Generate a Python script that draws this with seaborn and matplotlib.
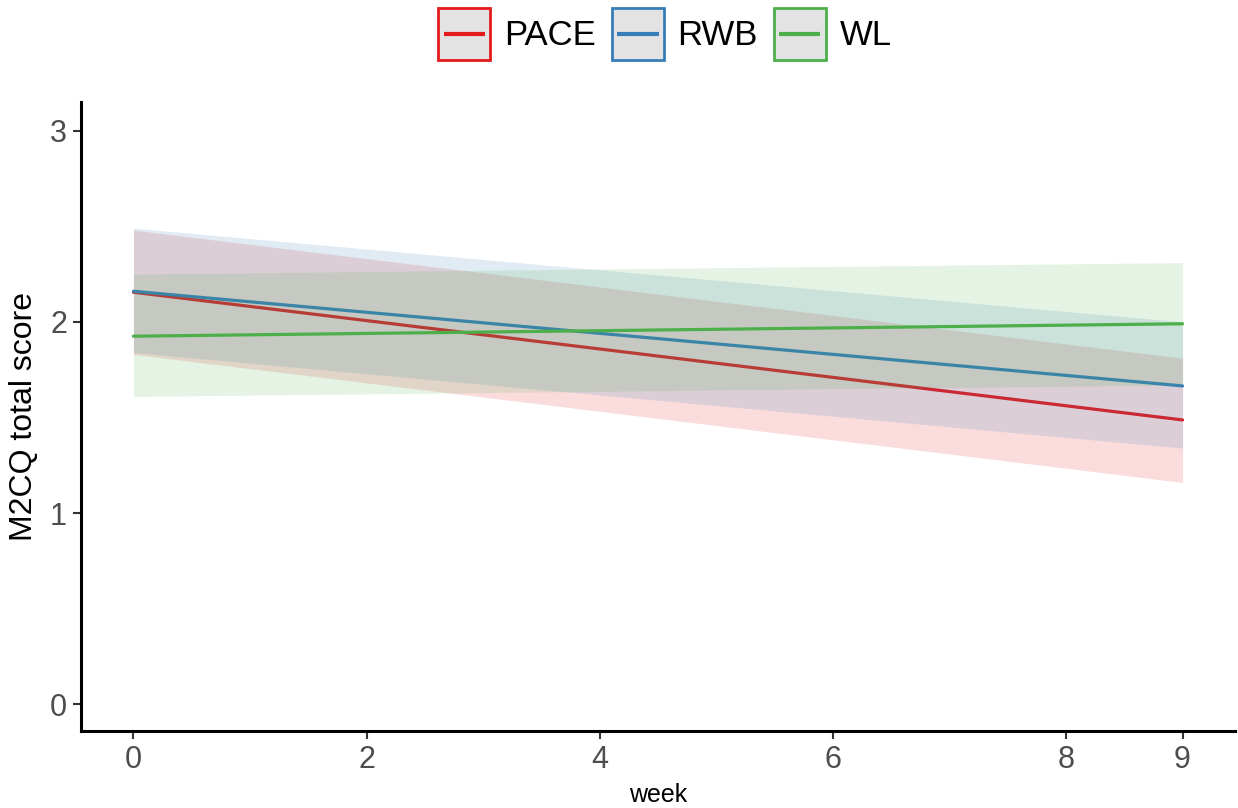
import pandas as pd
import matplotlib.pyplot as plt
import seaborn as sns
from matplotlib.patches import Rectangle
from matplotlib.lines import Line2D
from matplotlib.legend_handler import HandlerBase

sns.set_theme(style="white")
plt.rcParams['font.family'] = ['Liberation Sans', 'DejaVu Sans']

# Datos (ajuste lineal y banda de confianza)
groups = ["PACE", "RWB", "WL"]
weeks = [0, 9]
pace_fit = [2.155, 1.487]
pace_lo = [1.83, 1.16]
pace_hi = [2.48, 1.81]
rwb_fit = [2.16, 1.665]
rwb_lo = [1.84, 1.34]
rwb_hi = [2.49, 2.00]
wl_fit = [1.925, 1.99]
wl_lo = [1.61, 1.67]
wl_hi = [2.25, 2.31]

x_ticks = [0, 2, 4, 6, 8, 9]
y_ticks = [0, 1, 2, 3]

colors = {"PACE": "#E41A1C", "RWB": "#377EB8", "WL": "#4DAF4A"}

rows = []
for g, fit, lo, hi in [("PACE", pace_fit, pace_lo, pace_hi),
                       ("RWB", rwb_fit, rwb_lo, rwb_hi),
                       ("WL", wl_fit, wl_lo, wl_hi)]:
    for w, f, l, h in zip(weeks, fit, lo, hi):
        rows.append({"week": w, "score": f, "lo": l, "hi": h, "group": g})
df = pd.DataFrame(rows)


class KeyHandler(HandlerBase):
    """Clave estilo ggplot: caja gris con borde de color y línea centrada."""
    def create_artists(self, legend, orig_handle, xdescent, ydescent, width, height,
                       fontsize, trans):
        color = orig_handle.get_color()
        box = Rectangle((-xdescent, -ydescent), width, height, facecolor='#E3E3E3',
                        edgecolor=color, linewidth=2, transform=trans)
        y = -ydescent + height / 2
        pad = 0.1 * width
        ln = Line2D([-xdescent + pad, -xdescent + width - pad], [y, y], color=color,
                    linewidth=3, solid_capstyle='butt', transform=trans)
        return [box, ln]


fig = plt.figure(figsize=(12.38, 8.08), dpi=100)
ax = fig.add_axes([81 / 1238, 1 - 731 / 808, (1235 - 81) / 1238, (731 - 102) / 808])

# Como en ggplot: banda y luego línea por grupo (las bandas siguientes tapan las líneas previas)
for i, g in enumerate(groups):
    sub = df[df["group"] == g]
    ax.fill_between(sub["week"], sub["lo"], sub["hi"], color=colors[g], alpha=0.15,
                    linewidth=0, zorder=1 + 2 * i)
    sns.lineplot(data=sub, x="week", y="score", color=colors[g], linewidth=2.3, ax=ax,
                 legend=False, zorder=2 + 2 * i)

ax.set_xlim(-0.45, 9.45)
ax.set_ylim(-0.14, 3.15)
ax.set_xticks(x_ticks)
ax.set_yticks(y_ticks)
ax.tick_params(axis='both', labelsize=22, labelcolor='#4D4D4D', length=6, width=1.5,
               color='#333333', direction='out', bottom=True, left=True, pad=4)
ax.set_xlabel("week", fontsize=18, color='black', labelpad=6)
ax.set_ylabel("M2CQ total score", fontsize=23, color='black', labelpad=8)
for side in ['top', 'right']:
    ax.spines[side].set_visible(False)
for side in ['left', 'bottom']:
    ax.spines[side].set_linewidth(2.2)
    ax.spines[side].set_color('black')
    ax.spines[side].set_zorder(10)
ax.grid(False)

# Leyenda arriba, centrada
handles = [Line2D([], [], color=colors[g]) for g in groups]
fig.legend(handles, groups, loc='center', bbox_to_anchor=(665 / 1238, 1 - 34 / 808),
           ncol=3, frameon=False, fontsize=25, handlelength=1.5, handleheight=1.9,
           handletextpad=0.4, columnspacing=0.45, borderpad=0, labelcolor='black',
           handler_map={Line2D: KeyHandler()})

fig.savefig("out.png", dpi=100)
